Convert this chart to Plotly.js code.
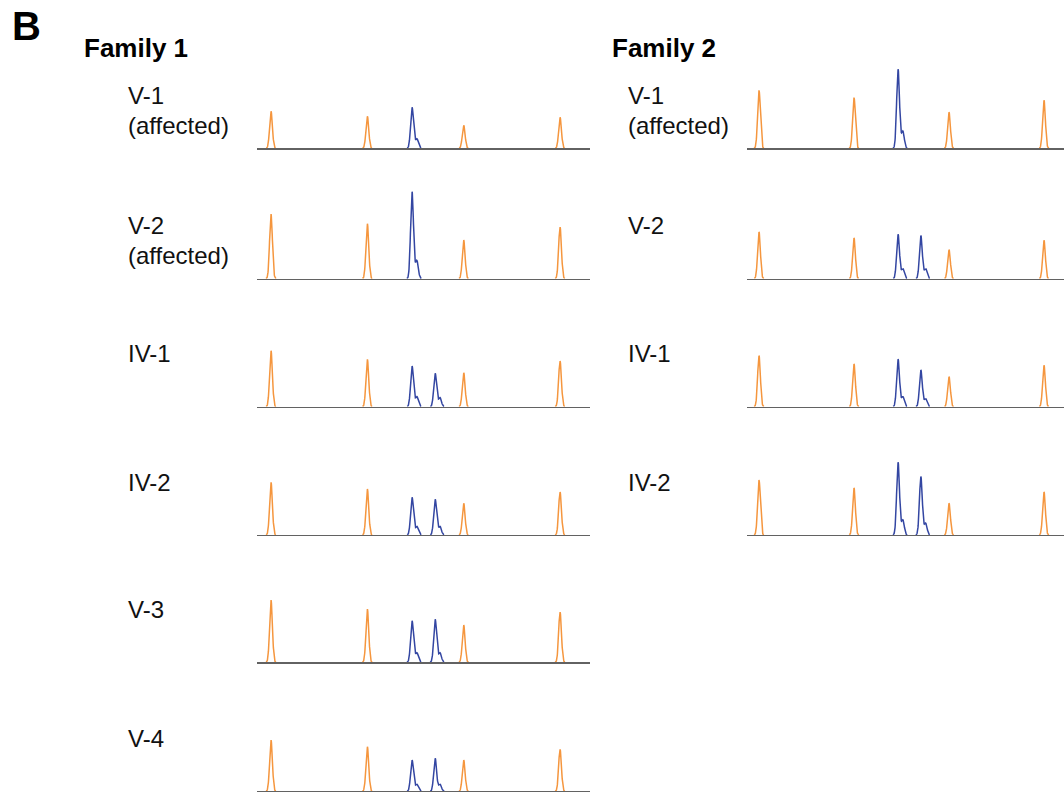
<!DOCTYPE html>
<html>
<head>
<meta charset="utf-8">
<script src="https://cdn.plot.ly/plotly-3.0.1.min.js"></script>
<style>html,body{margin:0;padding:0;background:#fff;}#chart{width:1064px;height:792px;}</style>
</head>
<body>
<div id="chart"></div>
<script>
// ---- Data ----
const ladderSizes = [100, 200, 300, 400];        // size-standard peaks (orange)
const alleleSizes = [246.4, 270.4];              // repeat-allele peaks (blue)
const shoulderOffset = 5.0;                      // +A / stutter shoulder offset

const family1Names = [["V-1", "(affected)"], ["V-2", "(affected)"], ["IV-1"], ["IV-2"], ["V-3"], ["V-4"]];
const family1Ladder = [
  [37, 32, 23, 31],
  [64.7, 55, 38.7, 51.7],
  [56, 47.4, 34, 45.7],
  [52.7, 46, 31.7, 43],
  [62.3, 53.3, 37.3, 50.3],
  [51.3, 44.6, 31.3, 42]
];
const family1Alleles = [
  [41, 0], [87, 0], [40.7, 33.4], [37.7, 35.7], [41.6, 43], [31.3, 33]
];
const family1Shoulders = [
  [9.5, 0], [18, 0], [10, 9], [8.5, 8.5], [9.5, 9.5], [7, 7]
];

const family2Names = [["V-1", "(affected)"], ["V-2"], ["IV-1"], ["IV-2"]];
const family2Ladder = [
  [58, 50.7, 36, 48],
  [46.7, 40.7, 29, 38.3],
  [51, 42.7, 30, 41.4],
  [55, 47, 31.7, 43]
];
const family2Alleles = [
  [79, 0], [44.3, 43], [47.4, 36.7], [72.7, 58.3]
];
const family2Shoulders = [
  [17, 0], [10, 10], [10, 8], [15, 11.7]
];

const familyTitles = ["Family 1", "Family 2"];
const panelLetter = "B";

// ---- Layout geometry ----
const W = 1064, H = 792;
const rowBaselines = [148.3, 278.7, 406.7, 535, 662.3, 791.3];
const panelHeight = 100;
const famX = [[257, 590], [747, 1064]];
const famRange = [[85.47, 431.1], [87.37, 421.05]];
const labelX = [126, 626];
const titleX = [82, 610];
const labelLineGap = 30;

const ORANGE = '#f5963e';
const BLUE = '#3346a2';
const SIG_O = 1.45;
const SIG_B = 1.5;

function peakCurve(xs, centers, heights, sig) {
  return xs.map(x => {
    let v = 0;
    for (let i = 0; i < centers.length; i++) {
      if (!heights[i]) continue;
      const d = (x - centers[i]) / sig;
      v += heights[i] * Math.exp(-0.5 * d * d);
    }
    return v < 0.12 ? null : v;
  });
}

const traces = [];
const layout = {
  width: W, height: H,
  margin: {l: 0, r: 0, t: 0, b: 0},
  paper_bgcolor: '#fff', plot_bgcolor: 'rgba(0,0,0,0)',
  showlegend: false,
  annotations: [],
  font: {family: 'Liberation Sans, Arial, sans-serif', color: '#000'}
};

let axisIdx = 0;
function addFamily(f, names, ladder, alleles, shoulders) {
  const rng = famRange[f];
  const xs = [];
  for (let x = rng[0]; x <= rng[1]; x += 0.2) xs.push(x);
  names.forEach((lines, r) => {
    axisIdx++;
    const xa = 'x' + (axisIdx === 1 ? '' : axisIdx);
    const ya = 'y' + (axisIdx === 1 ? '' : axisIdx);
    const xk = 'xaxis' + (axisIdx === 1 ? '' : axisIdx);
    const yk = 'yaxis' + (axisIdx === 1 ? '' : axisIdx);
    const b = rowBaselines[r];
    layout[xk] = {
      domain: [famX[f][0] / W, famX[f][1] / W], range: rng, anchor: ya,
      showline: true, linecolor: '#626262', linewidth: 1.3,
      showticklabels: false, ticks: '', showgrid: false, zeroline: false, fixedrange: true
    };
    layout[yk] = {
      domain: [1 - b / H, 1 - (b - panelHeight) / H], range: [0, panelHeight], anchor: xa,
      visible: false, fixedrange: true
    };
    traces.push({
      x: xs, y: peakCurve(xs, ladderSizes, ladder[r], SIG_O),
      xaxis: xa, yaxis: ya, mode: 'lines', hoverinfo: 'skip',
      line: {color: ORANGE, width: 1.5}
    });
    const centers = alleleSizes.concat(alleleSizes.map(a => a + shoulderOffset));
    const heights = alleles[r].concat(shoulders[r]);
    traces.push({
      x: xs, y: peakCurve(xs, centers, heights, SIG_B),
      xaxis: xa, yaxis: ya, mode: 'lines', hoverinfo: 'skip',
      line: {color: BLUE, width: 1.5}
    });
    lines.forEach((txt, li) => {
      layout.annotations.push({
        xref: 'paper', yref: 'paper', x: labelX[f] / W,
        y: 1 - (rowBaselines[r] - 53 + li * labelLineGap) / H,
        xanchor: 'left', yanchor: 'middle', align: 'left', showarrow: false,
        text: txt, font: {size: 24, color: '#111'}
      });
    });
  });
  layout.annotations.push({
    xref: 'paper', yref: 'paper', x: titleX[f] / W, y: 1 - 48 / H,
    xanchor: 'left', yanchor: 'middle', showarrow: false,
    text: '<b>' + familyTitles[f] + '</b>', font: {size: 26, color: '#000'}
  });
}

addFamily(0, family1Names, family1Ladder, family1Alleles, family1Shoulders);
addFamily(1, family2Names, family2Ladder, family2Alleles, family2Shoulders);

layout.annotations.push({
  xref: 'paper', yref: 'paper', x: 10 / W, y: 1 - 26 / H,
  xanchor: 'left', yanchor: 'middle', showarrow: false,
  text: '<b>' + panelLetter + '</b>', font: {size: 40, color: '#000'}
});

Plotly.newPlot('chart', traces, layout, {displayModeBar: false, staticPlot: true});
</script>
</body>
</html>
